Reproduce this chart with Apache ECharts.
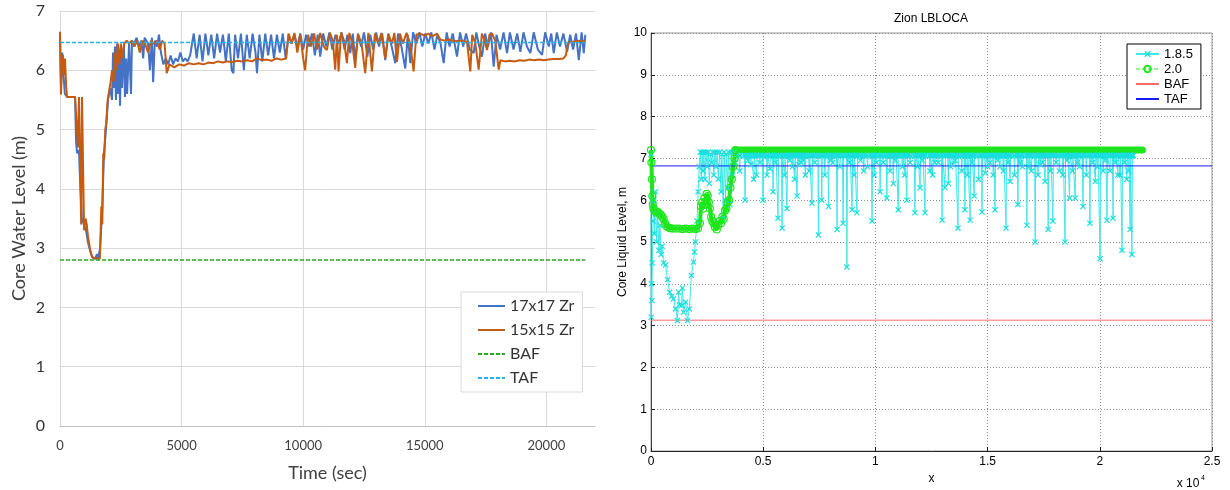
<!DOCTYPE html>
<html>
<head>
<meta charset="utf-8">
<title>Core water level</title>
<script src="https://cdn.jsdelivr.net/npm/echarts@6/dist/echarts.min.js"></script>
<style>
  html, body { margin: 0; padding: 0; background: #fff; }
  #chart { width: 1230px; height: 490px; }
</style>
</head>
<body>
<div id="chart"></div>
<script>
// ---- left chart: core water level (m) vs time (sec) ----
var zr17 = [
  [0, 6.6], [40, 5.7], [90, 6.3], [130, 6.0], [200, 5.6], [290, 5.55], [620, 5.55], [660, 4.8], [700, 4.6], [780, 4.65],
  [820, 4.2], [900, 3.5], [980, 3.4], [1070, 3.3], [1150, 3.1], [1240, 2.95], [1320, 2.85], [1440, 2.82], [1520, 2.9], [1560, 2.82],
  [1650, 3.0], [1730, 3.6], [1810, 4.6], [1890, 5.0], [1975, 5.5], [2060, 5.7], [2140, 5.5], [2180, 6.3], [2220, 5.7], [2260, 6.4],
  [2300, 5.5], [2350, 6.45], [2390, 5.6], [2430, 6.3], [2470, 5.4], [2510, 6.4], [2550, 5.7], [2630, 6.45], [2670, 5.55], [2720, 6.2],
  [2760, 5.6], [2840, 6.45], [2920, 5.6], [2960, 6.5], [3050, 6.45], [3150, 6.55], [3250, 6.4], [3350, 6.5], [3420, 6.2], [3480, 6.55],
  [3620, 6.45], [3700, 6.0], [3780, 6.55], [3830, 5.8], [3900, 6.5], [3990, 6.4], [4070, 6.6], [4150, 6.3], [4250, 6.1], [4350, 6.2],
  [4450, 6.1], [4550, 6.25], [4650, 6.1], [4750, 6.2], [4850, 6.15], [4950, 6.3], [5050, 6.15], [5150, 6.2], [5250, 6.15], [5350, 6.25],
  [5500, 6.62], [5620, 6.2], [5740, 6.6], [5860, 6.15], [5980, 6.62], [6100, 6.25], [6220, 6.6], [6340, 6.2], [6460, 6.62], [6580, 6.3],
  [6700, 6.6], [6820, 6.15], [6940, 6.62], [7060, 6.0], [7130, 5.95], [7200, 6.6], [7320, 6.2], [7440, 6.62], [7560, 6.0], [7680, 6.6],
  [7800, 6.2], [7920, 6.62], [8040, 6.3], [8100, 5.95], [8200, 6.6], [8320, 6.15], [8440, 6.62], [8560, 6.25], [8680, 6.6], [8800, 6.2],
  [8920, 6.6], [9040, 6.3], [9160, 6.62], [9280, 6.2], [9400, 6.6], [9520, 6.45], [9640, 6.6], [9760, 6.4], [9880, 6.62], [10000, 6.35],
  [10120, 6.6], [10240, 6.4], [10360, 6.62], [10480, 6.25], [10600, 6.6], [10700, 6.23], [10820, 6.62], [10950, 6.4], [11080, 6.64], [11200, 6.35],
  [11330, 6.6], [11450, 6.45], [11580, 6.64], [11700, 6.35], [11820, 6.6], [11934, 6.29], [12040, 6.62], [12140, 6.17], [12260, 6.6], [12380, 6.4],
  [12500, 6.64], [12640, 6.23], [12757, 6.6], [12880, 6.35], [13000, 6.64], [13120, 6.4], [13250, 6.62], [13375, 6.17], [13500, 6.6], [13640, 6.4],
  [13786, 6.12], [13900, 6.62], [14040, 6.4], [14198, 6.03], [14300, 6.6], [14404, 6.12], [14520, 6.64], [14650, 6.45], [14780, 6.64], [14900, 6.4],
  [15020, 6.62], [15150, 6.45], [15270, 6.64], [15400, 6.35], [15520, 6.6], [15650, 6.45], [15776, 6.12], [15900, 6.64], [16020, 6.4], [16150, 6.62],
  [16325, 6.23], [16450, 6.64], [16580, 6.4], [16700, 6.62], [16850, 6.35], [17010, 6.29], [17120, 6.64], [17240, 6.4], [17353, 6.23], [17480, 6.62],
  [17600, 6.4], [17720, 6.64], [17834, 6.06], [17950, 6.6], [18100, 6.35], [18240, 6.64], [18382, 6.29], [18500, 6.64], [18650, 6.35], [18800, 6.62],
  [18931, 6.31], [19060, 6.64], [19200, 6.4], [19343, 6.29], [19480, 6.64], [19650, 6.35], [19823, 6.26], [19950, 6.64], [20100, 6.4], [20200, 6.62],
  [20303, 6.29], [20430, 6.64], [20560, 6.4], [20700, 6.62], [20852, 6.31], [20980, 6.6], [21100, 6.35], [21220, 6.62], [21332, 6.17], [21450, 6.64],
  [21538, 6.29], [21600, 6.6]
];

var zr15 = [
  [0, 6.65], [40, 5.59], [80, 6.1], [120, 6.26], [165, 5.92], [205, 6.2], [250, 5.75], [290, 5.55], [620, 5.55], [700, 5.55],
  [740, 4.7], [780, 5.55], [820, 5.55], [870, 3.4], [905, 5.55], [950, 5.55], [990, 3.3], [1050, 3.5], [1100, 3.4], [1150, 3.2],
  [1230, 3.0], [1320, 2.85], [1400, 2.82], [1500, 2.82], [1580, 2.85], [1640, 2.82], [1700, 3.7], [1740, 3.4], [1780, 4.6], [1820, 4.5],
  [1860, 5.0], [1900, 5.1], [1960, 5.5], [2000, 5.6], [2080, 5.8], [2140, 6.0], [2200, 5.8], [2260, 6.3], [2320, 6.0], [2380, 6.45],
  [2440, 6.1], [2500, 6.45], [2560, 6.2], [2640, 6.45], [2740, 6.5], [2840, 6.45], [2950, 6.5], [3060, 6.4], [3170, 6.5], [3280, 6.3],
  [3390, 6.5], [3500, 6.45], [3620, 6.3], [3740, 6.5], [3860, 6.45], [3980, 6.5], [4100, 6.35], [4200, 6.5], [4300, 6.45], [4389, 5.95],
  [4500, 6.1], [4700, 6.05], [4900, 6.1], [5100, 6.08], [5300, 6.12], [5500, 6.1], [5700, 6.12], [5900, 6.1], [6100, 6.13], [6300, 6.12],
  [6500, 6.15], [6700, 6.13], [6900, 6.15], [7100, 6.14], [7300, 6.16], [7500, 6.15], [7700, 6.17], [7900, 6.15], [8100, 6.2], [8300, 6.17],
  [8500, 6.18], [8700, 6.16], [8900, 6.2], [9100, 6.18], [9300, 6.2], [9400, 6.62], [9520, 6.45], [9640, 6.63], [9760, 6.3], [9880, 6.6],
  [10000, 6.2], [10080, 6.0], [10200, 6.6], [10320, 6.4], [10450, 6.62], [10560, 6.35], [10700, 6.63], [10850, 6.4], [10974, 6.34], [11100, 6.63],
  [11220, 6.5], [11317, 6.01], [11390, 6.6], [11454, 5.98], [11560, 6.63], [11680, 6.5], [11797, 6.12], [11900, 6.63], [12020, 6.45], [12140, 6.04],
  [12250, 6.62], [12400, 6.45], [12551, 5.95], [12680, 6.63], [12826, 5.98], [12950, 6.62], [13080, 6.45], [13220, 6.63], [13375, 6.2], [13500, 6.62],
  [13650, 6.45], [13750, 6.63], [13855, 6.14], [13980, 6.62], [14100, 6.45], [14250, 6.63], [14400, 6.45], [14541, 5.98], [14650, 6.6], [14815, 6.62],
  [15000, 6.58], [15150, 6.62], [15300, 6.57], [15500, 6.62], [15639, 6.52], [15800, 6.5], [16000, 6.52], [16200, 6.49], [16400, 6.5], [16600, 6.5],
  [16736, 6.48], [16873, 5.98], [16950, 6.6], [17080, 6.45], [17216, 6.01], [17350, 6.62], [17470, 6.5], [17559, 6.34], [17660, 6.6], [17765, 6.62],
  [17900, 6.5], [18039, 6.01], [18110, 6.17], [18300, 6.15], [18500, 6.16], [18700, 6.15], [18900, 6.17], [19100, 6.16], [19300, 6.18], [19500, 6.17],
  [19700, 6.18], [19900, 6.17], [20100, 6.18], [20300, 6.19], [20500, 6.19], [20700, 6.2], [20800, 6.25], [20900, 6.47], [21100, 6.48], [21300, 6.5],
  [21450, 6.49], [21600, 6.5]
];

var bafLeft = [[0, 2.8], [21600, 2.8]];
var tafLeft = [[0, 6.47], [21600, 6.47]];

// ---- right chart: Zion LBLOCA ----
var v185Early = [
  [0, 7.1], [10, 3.2], [20, 4.0], [40, 3.6], [60, 4.5], [90, 5.5], [120, 6.0], [150, 5.2], [200, 6.2], [250, 5.0],
  [300, 5.7], [350, 4.8], [400, 5.4], [450, 4.7], [500, 4.9], [560, 4.5], [650, 4.45], [740, 4.1], [830, 3.8], [920, 3.7],
  [1000, 3.64], [1100, 3.4], [1180, 3.12], [1230, 3.8], [1270, 3.5], [1360, 3.48], [1400, 3.9], [1450, 3.32], [1540, 3.56], [1625, 3.12],
  [1710, 3.4], [1800, 4.2], [1890, 4.52], [1940, 4.76], [1980, 5.0], [2050, 5.5], [2100, 6.2], [2150, 6.8], [2200, 7.15], [2240, 6.5],
  [2280, 7.15], [2320, 6.7], [2360, 7.15], [2400, 6.5], [2450, 7.15], [2500, 6.8], [2550, 7.15], [2600, 6.4], [2650, 7.1], [2700, 6.9],
  [2750, 7.15], [2800, 6.6], [2850, 7.15], [2900, 6.8], [2950, 7.15], [3000, 6.5], [3060, 7.15], [3120, 6.2], [3160, 7.1], [3220, 5.6],
  [3260, 7.15], [3320, 6.0], [3360, 7.1], [3420, 6.3], [3460, 7.15], [3520, 5.9], [3580, 7.15], [3640, 6.6], [3700, 7.15], [3760, 6.9],
  [3830, 7.1]
];
// after ~3800 s the 1.8.5 level sits near the top and drops in spikes
var v185Base = 7.07;
var deepSpikeTimes = [
  4190, 4450, 4700, 4990, 5170, 5440, 5660, 5840, 6060, 6300, 6510, 6700, 6880, 7170, 7460, 7610, 7910, 8100, 8290, 8560,
  8730, 8960, 9180, 9480, 9850, 10050, 10210, 10510, 10800, 11020, 11200, 11400, 11760, 11990, 12210, 12430, 12650, 12970, 13100, 13250,
  13450, 13680, 13990, 14100, 14220, 14400, 14750, 14900, 15100, 15330, 15550, 15820, 16000, 16350, 16550, 16750, 16950, 17120, 17350, 17560,
  17700, 17910, 18200, 18450, 18650, 18900, 19100, 19250, 19560, 19800, 20010, 20150, 20320, 20590, 20800, 20990, 21200, 21350, 21430
];
var deepSpikeLevels = [
  6.0, 6.85, 6.6, 6.0, 6.6, 6.2, 5.57, 5.33, 5.8, 6.8, 6.1, 6.9, 6.6, 5.93, 5.17, 6.0, 5.85, 6.9, 5.3, 5.45,
  4.4, 5.77, 5.7, 6.7, 5.5, 6.9, 6.2, 6.05, 6.4, 5.77, 6.8, 6.0, 5.7, 6.3, 5.7, 6.7, 6.9, 5.52, 6.3, 6.4,
  6.85, 5.33, 5.77, 6.6, 5.52, 6.1, 5.72, 6.65, 6.9, 5.77, 6.8, 5.33, 6.45, 5.9, 6.8, 5.4, 6.7, 5.0, 6.85, 6.45,
  5.3, 5.5, 6.7, 5.0, 6.05, 6.05, 6.8, 5.85, 5.45, 6.45, 4.6, 6.7, 5.52, 5.57, 6.6, 4.8, 6.5, 5.3, 4.7
];
var shallowSpikeTimes = [
  3950, 4320, 4580, 4850, 5300, 5550, 5950, 6180, 6400, 6600, 6790, 7050, 7300, 7750, 8000, 8420, 8850, 9050, 9330, 9650,
  9950, 10350, 10650, 10900, 11300, 11550, 11880, 12100, 12550, 12800, 13350, 13550, 13850, 14300, 14600, 15000, 15250, 15450, 15700, 15920,
  16200, 16450, 16850, 17250, 17450, 17800, 18050, 18350, 18550, 18780, 19000, 19400, 19680, 19900, 20250, 20450, 20700, 20900, 21100, 21280
];
var shallowSpikeLevels = [
  6.7, 6.95, 6.5, 6.9, 6.75, 6.9, 6.6, 6.95, 6.5, 6.85, 6.95, 6.7, 6.9, 6.6, 6.95, 6.8, 6.9, 6.6, 6.95, 6.8,
  6.6, 6.9, 6.7, 6.95, 6.6, 6.9, 6.8, 6.95, 6.6, 6.9, 6.8, 6.95, 6.7, 6.9, 6.5, 6.8, 6.6, 6.95, 6.7, 6.9,
  6.6, 6.9, 6.8, 6.6, 6.9, 6.7, 6.9, 6.6, 6.95, 6.7, 6.9, 6.6, 6.9, 6.8, 6.95, 6.7, 6.9, 6.6, 6.9, 6.7
];
var v185End = 21500;

var v20Early = [
  [0, 7.2], [20, 6.9], [40, 6.5], [60, 6.1], [80, 5.9], [110, 5.8], [160, 5.75], [230, 5.7], [300, 5.72], [370, 5.68],
  [440, 5.65], [500, 5.6], [560, 5.55], [620, 5.45], [680, 5.38], [760, 5.35], [850, 5.33], [950, 5.32], [1100, 5.32], [1250, 5.32],
  [1400, 5.31], [1550, 5.32], [1700, 5.31], [1850, 5.32], [2000, 5.31], [2100, 5.33], [2180, 5.45], [2230, 5.85], [2280, 5.95], [2330, 5.8],
  [2380, 6.05], [2430, 5.9], [2480, 6.15], [2530, 6.1], [2580, 5.95], [2630, 5.8], [2680, 5.6], [2730, 5.5], [2780, 5.45], [2850, 5.35],
  [2930, 5.3], [3000, 5.4], [3060, 5.5], [3120, 5.45], [3180, 5.6], [3240, 5.55], [3300, 5.75], [3360, 5.8], [3420, 5.95], [3480, 6.0],
  [3540, 6.3], [3600, 6.5], [3660, 6.8], [3720, 7.0], [3760, 7.2]
];
var v20Flat = [[3760, 7.2], [21900, 7.2]];
var bafRight = [[0, 3.13], [25000, 3.13]];
var tafRight = [[0, 6.82], [25000, 6.82]];

// build the 1.8.5 trace: each spike drops from the top level and comes straight back
var spikes = [];
for (var i = 0; i < deepSpikeTimes.length; i++) spikes.push([deepSpikeTimes[i], deepSpikeLevels[i]]);
for (var j = 0; j < shallowSpikeTimes.length; j++) spikes.push([shallowSpikeTimes[j], shallowSpikeLevels[j]]);
spikes.sort(function (a, b) { return a[0] - b[0]; });
var v185 = v185Early.slice();
spikes.forEach(function (s) {
  v185.push([s[0] - 25, v185Base]);
  v185.push(s);
  v185.push([s[0] + 25, v185Base]);
});
v185.push([v185End, v185Base]);

var crossPath = 'path://M0,1.4L1.4,0L5,3.6L8.6,0L10,1.4L6.4,5L10,8.6L8.6,10L5,6.4L1.4,10L0,8.6L3.6,5Z';
var leftFont = 'Lato, "Open Sans", sans-serif';
var rightFont = '"Liberation Sans", Arial, sans-serif';
var noMark = { opacity: 0 };

var myChart = echarts.init(document.getElementById('chart'));
var option = {
  animation: false,
  grid: [
    { left: 60, top: 11, width: 535, height: 415 },
    { left: 651, top: 33, width: 561, height: 418, show: true, borderColor: '#9a9a9a', borderWidth: 1, backgroundColor: '#fff' }
  ],
  legend: [
    {
      data: [
        { name: '17x17 Zr', itemStyle: noMark },
        { name: '15x15 Zr', itemStyle: noMark },
        { name: 'BAF', itemStyle: noMark },
        { name: 'TAF', itemStyle: noMark }
      ],
      orient: 'vertical',
      left: 461, top: 292,
      padding: [6, 8, 6, 16],
      itemGap: 8,
      itemWidth: 27, itemHeight: 14,
      backgroundColor: '#fff',
      borderColor: '#d9d9d9', borderWidth: 1,
      textStyle: { fontFamily: leftFont, fontSize: 16, color: '#333' }
    },
    {
      data: [
        { name: '1.8.5' },
        { name: '2.0', lineStyle: { width: 1, type: [4, 2] } },
        { name: 'BAF ', itemStyle: noMark },
        { name: 'TAF ', itemStyle: noMark }
      ],
      orient: 'vertical',
      left: 1127, top: 44,
      padding: [3, 8, 3, 8],
      itemGap: 1,
      itemWidth: 23, itemHeight: 8,
      backgroundColor: '#fff',
      borderColor: '#000', borderWidth: 1,
      textStyle: { fontFamily: rightFont, fontSize: 13, color: '#000', lineHeight: 14 }
    }
  ],
  xAxis: [
    {
      gridIndex: 0, type: 'value', min: 0, max: 22000, interval: 5000,
      name: 'Time (sec)', nameLocation: 'middle', nameGap: 38,
      nameTextStyle: { fontFamily: leftFont, fontSize: 18, color: '#404040' },
      axisLine: { show: true, lineStyle: { color: '#bfbfbf' } },
      axisTick: { show: false },
      axisLabel: {
        showMaxLabel: false, margin: 13, fontFamily: leftFont, fontSize: 13, color: '#404040',
        formatter: function (v) { return String(v); }
      },
      splitLine: { show: true, showMaxLine: false, lineStyle: { color: '#d9d9d9' } }
    },
    {
      gridIndex: 1, type: 'value', min: 0, max: 25000, interval: 5000,
      name: 'x', nameLocation: 'middle', nameGap: 21,
      nameTextStyle: { fontFamily: rightFont, fontSize: 12, color: '#000' },
      axisLine: { show: true, onZero: false, lineStyle: { color: '#222' } },
      axisTick: { show: true, inside: true, length: 4, lineStyle: { color: '#222' } },
      axisLabel: {
        margin: 5, fontFamily: rightFont, fontSize: 12, color: '#000',
        formatter: function (v) { return v === 0 ? '0' : String(v / 10000); }
      },
      splitLine: { show: true, lineStyle: { color: '#8c8c8c', type: [1, 2] } }
    }
  ],
  yAxis: [
    {
      gridIndex: 0, type: 'value', min: 0, max: 7, interval: 1,
      name: 'Core Water Level (m)', nameLocation: 'middle', nameGap: 32,
      nameTextStyle: { fontFamily: leftFont, fontSize: 18, color: '#404040' },
      axisLine: { show: true, lineStyle: { color: '#d9d9d9' } },
      axisTick: { show: false },
      axisLabel: { margin: 15, fontFamily: leftFont, fontSize: 16, color: '#333' },
      splitLine: { show: true, lineStyle: { color: '#d9d9d9' } }
    },
    {
      gridIndex: 1, type: 'value', min: 0, max: 10, interval: 1,
      name: 'Core Liquid Level, m', nameLocation: 'middle', nameGap: 22,
      nameTextStyle: { fontFamily: rightFont, fontSize: 12, color: '#000' },
      axisLine: { show: true, onZero: false, lineStyle: { color: '#444' } },
      axisTick: { show: true, inside: true, length: 4, lineStyle: { color: '#222' } },
      axisLabel: { margin: 4, fontFamily: rightFont, fontSize: 12, color: '#000' },
      splitLine: { show: true, lineStyle: { color: '#8c8c8c', type: [1, 2] } }
    }
  ],
  graphic: [
    {
      type: 'text',
      style: { text: 'Zion LBLOCA', x: 931, y: 19, textAlign: 'center', textVerticalAlign: 'middle',
        font: '12px "Liberation Sans", Arial, sans-serif', fill: '#000' }
    },
    {
      type: 'text',
      style: { text: 'x 10', x: 1188, y: 484, textAlign: 'center', textVerticalAlign: 'middle',
        font: '12px "Liberation Sans", Arial, sans-serif', fill: '#000' }
    },
    {
      type: 'text',
      style: { text: '4', x: 1203, y: 478, textAlign: 'center', textVerticalAlign: 'middle',
        font: '7px "Liberation Sans", Arial, sans-serif', fill: '#000' }
    }
  ],
  series: [
    {
      name: '17x17 Zr', type: 'line', xAxisIndex: 0, yAxisIndex: 0,
      showSymbol: false, symbol: 'none',
      lineStyle: { color: '#4472c4', width: 2 }, itemStyle: { color: '#4472c4' },
      data: zr17
    },
    {
      name: '15x15 Zr', type: 'line', xAxisIndex: 0, yAxisIndex: 0,
      showSymbol: false, symbol: 'none',
      lineStyle: { color: '#c55a11', width: 2 }, itemStyle: { color: '#c55a11' },
      data: zr15
    },
    {
      name: 'BAF', type: 'line', xAxisIndex: 0, yAxisIndex: 0, symbol: 'none',
      lineStyle: { color: '#20b020', width: 1.5, type: [4, 2] }, itemStyle: { color: '#20b020' },
      data: bafLeft
    },
    {
      name: 'TAF', type: 'line', xAxisIndex: 0, yAxisIndex: 0, symbol: 'none',
      lineStyle: { color: '#1fb4f0', width: 1.5, type: [4, 2] }, itemStyle: { color: '#1fb4f0' },
      data: tafLeft
    },
    {
      name: '1.8.5', type: 'line', xAxisIndex: 1, yAxisIndex: 1,
      symbol: crossPath, symbolSize: 6, showAllSymbol: true,
      lineStyle: { color: '#3ee8e8', width: 1 },
      itemStyle: { color: '#19dede' },
      data: v185
    },
    {
      name: '2.0', type: 'line', xAxisIndex: 1, yAxisIndex: 1,
      symbol: 'circle', symbolSize: 7, showAllSymbol: true,
      lineStyle: { color: '#1ee61e', width: 4 },
      itemStyle: { color: 'rgba(0,0,0,0)', borderColor: '#1ee61e', borderWidth: 1.2 },
      data: v20Early
    },
    {
      name: '2.0', type: 'line', xAxisIndex: 1, yAxisIndex: 1,
      symbol: 'none',
      lineStyle: { color: '#1ee61e', width: 7, cap: 'round' },
      itemStyle: { color: '#1ee61e' },
      data: v20Flat
    },
    {
      name: 'BAF ', type: 'line', xAxisIndex: 1, yAxisIndex: 1, symbol: 'none',
      lineStyle: { color: '#ff6b6b', width: 1 }, itemStyle: { color: '#ff6b6b' },
      data: bafRight
    },
    {
      name: 'TAF ', type: 'line', xAxisIndex: 1, yAxisIndex: 1, symbol: 'none',
      lineStyle: { color: '#1a1aff', width: 1 }, itemStyle: { color: '#1a1aff' },
      data: tafRight
    }
  ]
};
myChart.setOption(option);
</script>
</body>
</html>
